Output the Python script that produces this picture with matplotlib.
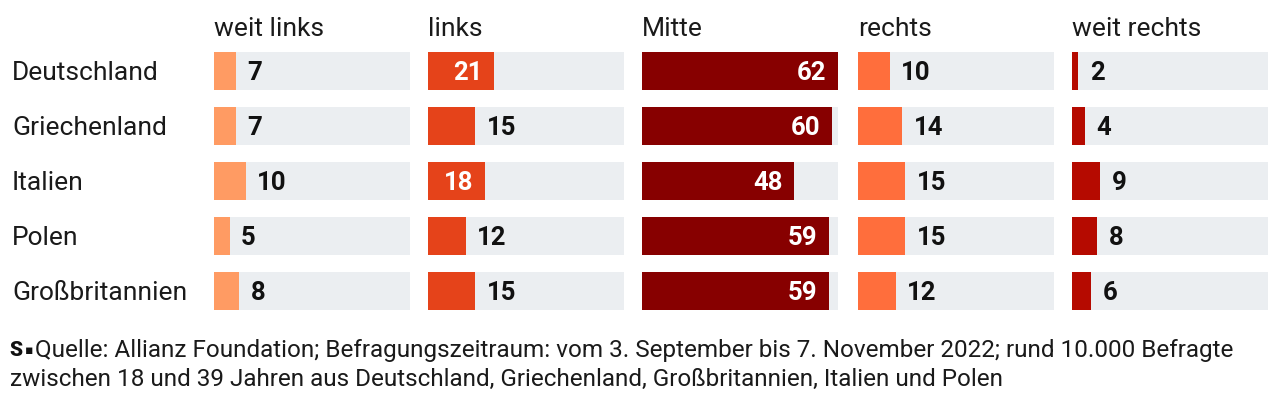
import matplotlib.pyplot as plt
import matplotlib.transforms as mtransforms
from matplotlib import font_manager

# Daten
laender = ['Deutschland', 'Griechenland', 'Italien', 'Polen', 'Großbritannien']
kategorien = ['weit links', 'links', 'Mitte', 'rechts', 'weit rechts']
weit_links = [7, 7, 10, 5, 8]
links = [21, 15, 18, 12, 15]
mitte = [62, 60, 48, 59, 59]
rechts = [10, 14, 15, 15, 12]
weit_rechts = [2, 4, 9, 8, 6]
werte = [weit_links, links, mitte, rechts, weit_rechts]
farben = ['#FF9B63', '#E5431A', '#870000', '#FF6E3C', '#B50A00']
# welche Werte stehen weiss im Balken
innen = [[False] * 5,
         [True, False, True, False, False],
         [True] * 5,
         [False] * 5,
         [False] * 5]

namen = {f.name for f in font_manager.fontManager.ttflist}
schrift = 'Roboto' if 'Roboto' in namen else 'DejaVu Sans'
plt.rcParams['font.family'] = schrift

W, H = 1280, 401
fig = plt.figure(figsize=(W / 100, H / 100), dpi=100)

max_wert = 62
links_px = [214, 428, 642, 858, 1072]
breite_px = 196
top_px, bot_px = 43.5, 318.5

for i, ax_x in enumerate(links_px):
    ax = fig.add_axes([ax_x / W, 1 - bot_px / H, breite_px / W, (bot_px - top_px) / H])
    y = list(range(len(laender)))
    ax.barh(y, [max_wert] * len(y), height=0.69, color='#EBEEF1')
    ax.barh(y, werte[i], height=0.69, color=farben[i])
    ax.set_xlim(0, max_wert)
    ax.set_ylim(4.5, -0.5)
    ax.axis('off')
    for j, v in enumerate(werte[i]):
        if innen[i][j]:
            ax.text(v - 3.6, j + 0.03, str(v), color='white', fontsize=18.5,
                    fontweight='bold', ha='right', va='center')
        else:
            ax.text(v + 3.6, j + 0.03, str(v), color='#111111', fontsize=18.5,
                    fontweight='bold', ha='left', va='center')
    ax.text(0, -0.76, kategorien[i], fontsize=19, color='#1a1a1a',
            ha='left', va='center')
    if i == 0:
        trans = mtransforms.blended_transform_factory(fig.transFigure, ax.transData)
        for j, land in enumerate(laender):
            ax.text(12 / W, j + 0.03, land, transform=trans, fontsize=19,
                    color='#1a1a1a', ha='left', va='center')

fig.text(9 / W, 1 - 350 / H, 'S', fontsize=15, fontweight='black',
         ha='left', va='center', color='#111111')
fig.text(25 / W, 1 - 350 / H, '▪', fontsize=9, ha='left', va='center',
         color='#111111', family=['DejaVu Sans'])
fig.text(35 / W, 1 - 350 / H,
         'Quelle: Allianz Foundation; Befragungszeitraum: vom 3. September bis 7. November 2022; rund 10.000 Befragte',
         fontsize=17.5, ha='left', va='center', color='#1a1a1a')
fig.text(10 / W, 1 - 379 / H,
         'zwischen 18 und 39 Jahren aus Deutschland, Griechenland, Großbritannien, Italien und Polen',
         fontsize=17.5, ha='left', va='center', color='#1a1a1a')

fig.savefig('out.png', dpi=100, facecolor='white')
